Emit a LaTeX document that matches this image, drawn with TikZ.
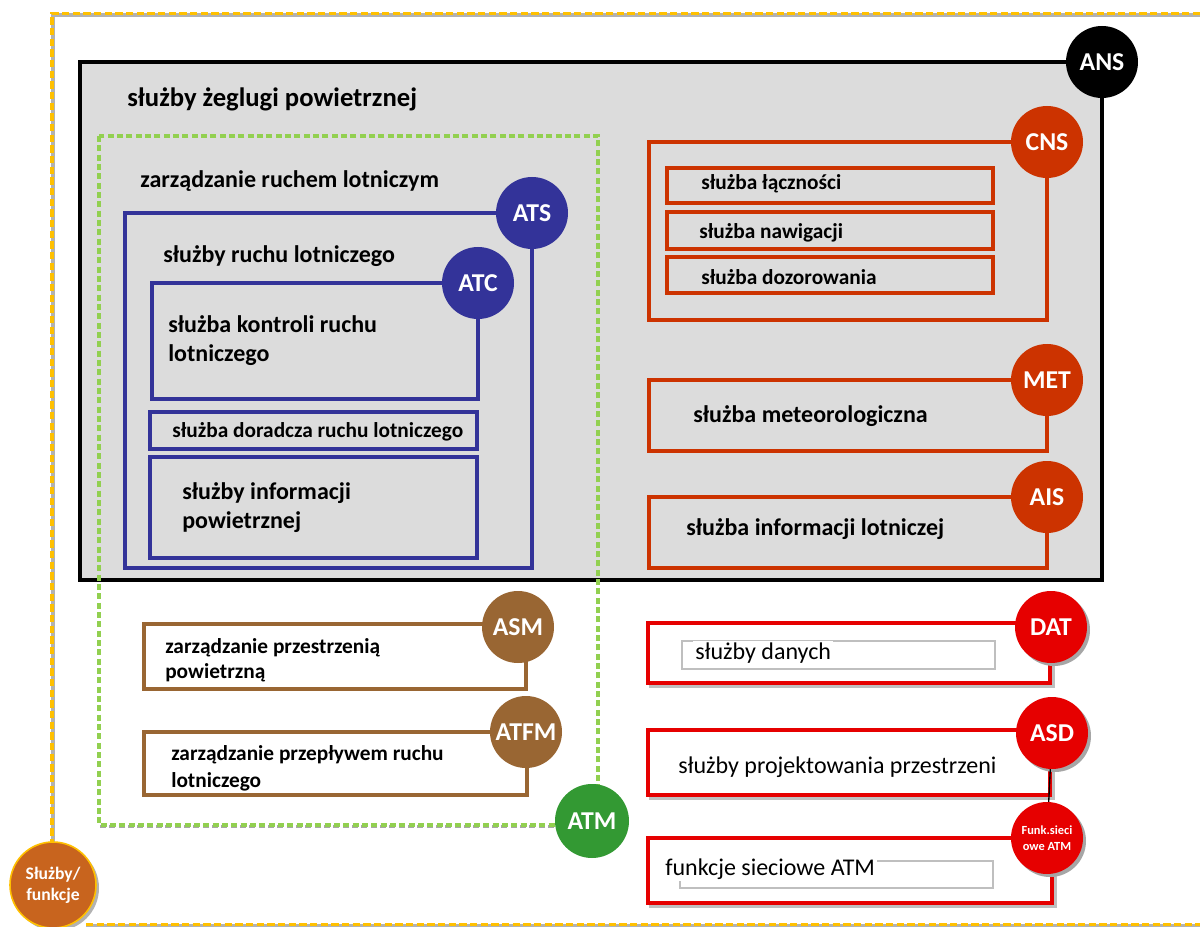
\documentclass[tikz,border=0pt]{standalone}
\usepackage{fontspec}
\setmainfont{Carlito}
\definecolor{panel}{RGB}{220,220,220}
\definecolor{navy}{RGB}{51,51,153}
\definecolor{cnsred}{RGB}{204,51,0}
\definecolor{brightred}{RGB}{230,0,0}
\definecolor{brown}{RGB}{153,102,51}
\definecolor{atmgreen}{RGB}{51,153,51}
\definecolor{lightgreen}{RGB}{146,208,80}
\definecolor{amber}{RGB}{255,192,0}
\definecolor{rust}{RGB}{200,100,30}
\begin{document}
\begin{tikzpicture}[x=0.75pt,y=-0.75pt,
  tag/.style={circle, fill=#1, text=white, inner sep=0pt, minimum size=54pt,
    font=\bfseries\fontsize{19.3}{21}\selectfont},
  lbl/.style 2 args={anchor=west, inner sep=0pt, align=left,
    font=\bfseries\fontsize{#1}{#2}\selectfont},
  reg/.style={anchor=west, inner sep=1.5pt, fill=white,
    font=\fontsize{18}{20}\selectfont},
  bluebox/.style={draw=navy, line width=2.4pt},
  cnsbox/.style={draw=cnsred, line width=2.4pt},
  redbox/.style={draw=brightred, line width=3pt, fill=white},
  brownbox/.style={draw=brown, line width=2.8pt, fill=white},
  innerbox/.style={draw=black!25, line width=1.2pt, fill=white},
  shadowc/.style={circle, fill=black!35, minimum size=54pt, inner sep=0pt},
]
\useasboundingbox (0,0) rectangle (1200,927);

% outer dashed frame
\draw[black!30, line width=2.6pt] (1200,15) -- (53,15) -- (53,842);
\draw[black!30, line width=2.6pt] (86,926) -- (1200,926);
\draw[amber, line width=2.6pt, dash pattern=on 5.5pt off 2.5pt] (1200,13.5) -- (52,13.5) -- (52,842);
\draw[amber, line width=2.6pt, dash pattern=on 5.5pt off 2.5pt] (86,924.5) -- (1200,924.5);

% ANS panel
\draw[black, line width=3pt, fill=panel] (80,62) rectangle (1102,580);
\node[tag=black] (ans) at (1102,62) {ANS};
\node[lbl={20}{24}] (t-ans) at (127,99) {służby żeglugi powietrznej};

% ATM dashed frame
\draw[black!35, line width=2.6pt, dash pattern=on 4.5pt off 2.5pt] (100,826.5) -- (598,826.5);
\draw[lightgreen, line width=2.8pt, dash pattern=on 4.5pt off 2.5pt] (99,136) rectangle (598,825);
\node[lbl={18}{22}] (t-atm) at (140,181) {zarządzanie ruchem lotniczym};

% ATS
\draw[bluebox] (125,213) rectangle (532,568);
\node[tag=navy] (ats) at (532,213) {ATS};
\node[lbl={18}{22}] (t-ats) at (163,256) {służby ruchu lotniczego};
\draw[bluebox] (152,283) rectangle (478,399);
\node[tag=navy] (atc) at (478,283) {ATC};
\node[lbl={18}{21.75}] (t-atc) at (168,341) {służba kontroli ruchu\\lotniczego};
\draw[bluebox, line width=2.8pt] (150,412) rectangle (477,449);
\node[lbl={16}{18}] (t-adv) at (172,432) {służba doradcza ruchu lotniczego};
\draw[bluebox, line width=2.8pt] (150,457) rectangle (477,558);
\node[lbl={18}{21.75}] (t-fis) at (182,508) {służby informacji\\powietrznej};

% CNS
\draw[cnsbox] (649,142) rectangle (1047,320);
\node[tag=cnsred] (cns) at (1047,142) {CNS};
\draw[cnsbox] (667,168) rectangle (993,203);
\node[lbl={16}{18}] (t-com) at (701,184) {służba łączności};
\draw[cnsbox] (667,212) rectangle (993,249);
\node[lbl={16}{18}] (t-nav) at (699,233) {służba nawigacji};
\draw[cnsbox] (667,257) rectangle (993,293);
\node[lbl={16}{18}] (t-sur) at (701,277) {służba dozorowania};

% MET
\draw[cnsbox] (649,380) rectangle (1047,451);
\node[tag=cnsred] (met) at (1047,380) {MET};
\node[lbl={18}{20}] (t-met) at (693,416) {służba meteorologiczna};

% AIS
\draw[cnsbox] (649,497) rectangle (1047,568);
\node[tag=cnsred] (ais) at (1047,497) {AIS};
\node[lbl={18}{20}] (t-ais) at (686,529) {służba informacji lotniczej};

% ASM
\draw[brownbox] (144,624) rectangle (526,689);
\node[tag=brown] (asm) at (518,627) {ASM};
\node[lbl={16}{18.75}] (t-asm) at (165,660) {zarządzanie przestrzenią\\powietrzną};

% ATFM
\draw[brownbox] (144,732) rectangle (527,795);
\node[tag=brown] (atfm) at (526,732) {ATFM};
\node[lbl={16}{20}] (t-atfm) at (171,768) {zarządzanie przepływem ruchu\\lotniczego};

\node[tag=atmgreen, minimum size=55.5pt] (atm) at (592,821) {ATM};

% DAT
\draw[black!25, line width=3pt] (651,626) rectangle (1053,686);
\draw[redbox] (648,623) rectangle (1050,683);
\draw[innerbox] (682,641) rectangle (995,669);
\node[reg] (t-dat) at (693,653) {służby danych};
\node[shadowc] at (1054,630) {};
\node[tag=brightred] (dat) at (1051,627) {DAT};

% ASD
\draw[black!25, line width=3pt] (651,733) rectangle (1053,798);
\draw[redbox] (648,730) rectangle (1050,795);
\node[reg, fill=none] (t-asd) at (676,767) {służby projektowania przestrzeni};

% Network functions
\draw[black!25, line width=3pt] (651,841) rectangle (1055,906);
\draw[redbox] (648,838) rectangle (1052,903);
\draw[innerbox] (680,861) rectangle (993,888);
\node[reg] (t-nf) at (663,869) {funkcje sieciowe ATM};

\node[shadowc] at (1055,736) {};
\node[tag=brightred] (asd) at (1052,733) {ASD};
\node[shadowc] at (1050,841) {};
\node[tag=brightred, font=\bfseries\fontsize{9.3}{12}\selectfont, align=center] (fun) at (1047,838) {Funk.sieci\\owe ATM};
\draw[black, line width=1pt] (asd) -- (fun);

% Sluzby / funkcje
\node[circle, fill=black!30, minimum size=64.5pt, inner sep=0pt] at (56,888) {};
\node[circle, fill=rust, draw=amber, line width=1.2pt, minimum size=64.5pt, inner sep=0pt,
  text=white, align=center, font=\bfseries\fontsize{13.2}{16}\selectfont] (sf) at (53,885) {Służby/\\funkcje};
\end{tikzpicture}
\end{document}
